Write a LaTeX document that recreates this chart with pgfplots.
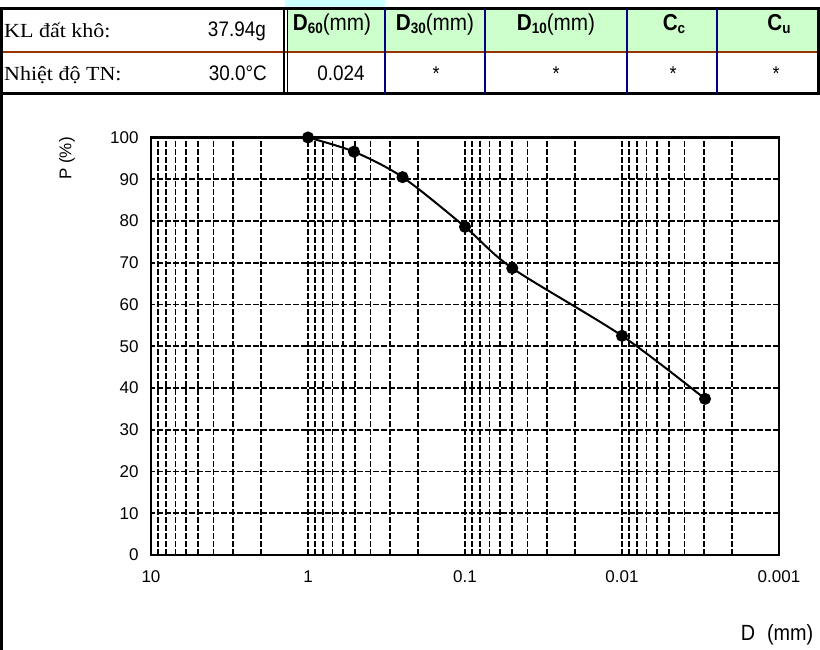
\documentclass[border=0pt]{standalone}
\usepackage{fontspec}
\setmainfont{Liberation Serif}
\newfontfamily\serifw[FakeStretch=1.1]{Liberation Serif}
\newfontfamily\arialf{Liberation Sans}
\newfontfamily\narrowf[FakeStretch=0.9]{Liberation Sans}
\usepackage{pgfplots}
\pgfplotsset{compat=1.18}
\definecolor{hdrgreen}{HTML}{CCFFCC}
\definecolor{topcyan}{HTML}{CCFFFF}
\definecolor{brownline}{HTML}{993300}
\definecolor{navyline}{HTML}{000080}
\newcommand{\fs}[1]{\fontsize{#1}{#1}\selectfont}
\newcommand{\hdr}[2]{{\narrowf\fs{23}\bfseries #1\raisebox{-3pt}{\fs{15}#2}}}
\begin{document}
\begin{tikzpicture}[x=1pt,y=1pt]
\useasboundingbox (0,0) rectangle (820,650);
% table
\fill[topcyan] (285,641) rectangle (385,650);
\fill[hdrgreen] (288,599) rectangle (820,640);
\draw[brownline, line width=2.5pt] (3,598) -- (820,598);
\draw[black, line width=3pt] (0,641) -- (820,641);
\draw[black, line width=3pt] (0,556) -- (820,556);
\draw[black, line width=3pt] (1.5,0) -- (1.5,642.5);
\draw[black, line width=3pt] (818.5,554.5) -- (818.5,642.5);
\draw[black, line width=1.5pt] (284,556) -- (284,641);
\draw[black, line width=1.5pt] (287.5,556) -- (287.5,641);
\foreach \xx in {385,485,627,717} \draw[navyline, line width=2pt] (\xx,556) -- (\xx,641);
\node[anchor=base west, inner sep=0] at (4,612.5) {\serifw\fs{20}KL đất khô:};
\node[anchor=base west, inner sep=0] at (4,569) {\serifw\fs{20}Nhiệt độ TN:};
\node[anchor=base east, inner sep=0] at (266,613) {\narrowf\fs{21}37.94g};
\node[anchor=base east, inner sep=0] at (267,569) {\narrowf\fs{21}30.0°C};
\node[anchor=base, inner sep=0] at (332,619) {\hdr{D}{60}{\narrowf\fs{23}(mm)}};
\node[anchor=base, inner sep=0] at (435,619) {\hdr{D}{30}{\narrowf\fs{23}(mm)}};
\node[anchor=base, inner sep=0] at (556,619) {\hdr{D}{10}{\narrowf\fs{23}(mm)}};
\node[anchor=base, inner sep=0] at (674,619) {\hdr{C}{c}};
\node[anchor=base, inner sep=0] at (779,619) {\hdr{C}{u}};
\node[anchor=base, inner sep=0] at (341,569) {\narrowf\fs{21}0.024};
\foreach \xx in {436,556,673,776} \node[anchor=base, inner sep=0] at (\xx,569) {\narrowf\fs{20}*};
% labels
\node[rotate=90, inner sep=0] at (67,491.5) {\arialf\fs{17}P (\%)};
\node[inner sep=0] at (777,15) {\narrowf\fs{22}D\hspace{12pt}(mm)};
\begin{axis}[
  at={(151pt,95pt)}, anchor=south west,
  scale only axis, width=628pt, height=417.5pt,
  xmode=log, x dir=reverse,
  xmin=0.001, xmax=10, ymin=0, ymax=100,
  xtick={0.001,0.01,0.1,1,10},
  xticklabels={0.001,0.01,0.1,1,10},
  minor xtick={0.002,0.003,0.004,0.005,0.006,0.007,0.008,0.009,
               0.02,0.03,0.04,0.05,0.06,0.07,0.08,0.09,
               0.2,0.3,0.4,0.5,0.6,0.7,0.8,0.9,
               2,3,4,5,6,7,8,9},
  ytick={0,10,...,100},
  xmajorgrids, xminorgrids, ymajorgrids,
  major tick length=0pt, minor tick length=0pt,
  grid style={black, line width=1.6pt, dash pattern=on 6pt off 2pt},
  major grid style={black, line width=1.6pt, dash pattern=on 6pt off 2pt},
  minor grid style={black, line width=1.6pt, dash pattern=on 6pt off 2pt},
  axis line style={black, line width=2.5pt},
  /pgf/number format/assume math mode=true,
  tick label style={font=\arialf\fs{17}},
  xticklabel style={yshift=-12pt},
  yticklabel style={xshift=-9pt},
  clip=false,
]
\addplot[black, line width=2pt, smooth, mark=*, mark size=5pt,
  mark options={solid, fill=black}] coordinates {
  (1,100) (0.51,96.6) (0.25,90.5) (0.1,78.6) (0.05,68.7) (0.01,52.5) (0.00296,37.4)
};
\end{axis}
\end{tikzpicture}
\end{document}
